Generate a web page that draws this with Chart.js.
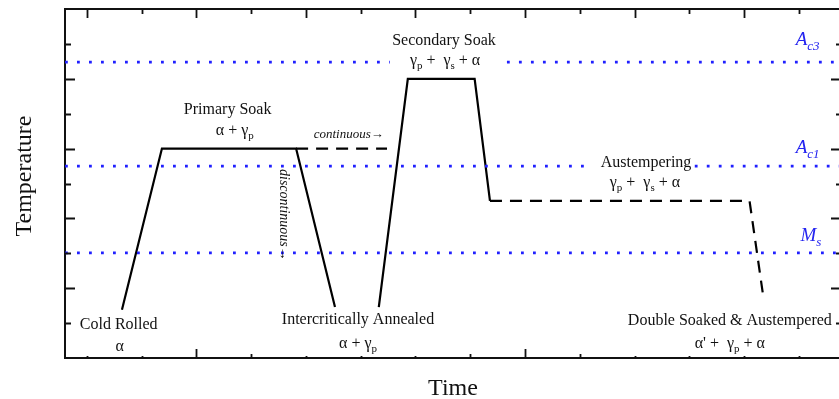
<!DOCTYPE html>
<html>
<head>
<meta charset="utf-8">
<script src="https://cdn.jsdelivr.net/npm/chart.js@4/dist/chart.umd.min.js"></script>
<style>
  html, body { margin:0; padding:0; background:#fff; overflow:hidden; }
  canvas { display:block; }
</style>
</head>
<body>
<canvas id="c" width="844" height="399"></canvas>
<script>
// ====== schematic heat treatment ======
// x: arbitrary time units (one tick = 1), y: arbitrary temperature units (one tick = 1)
const X_MIN = -0.4, X_MAX = 13.77;
const Y_MIN = 0, Y_MAX = 10;
const xTicks = [0,1,2,3,4,5,6,7,8,9,10,11,12,13];
const yTicks = [1,2,3,4,5,6,7,8,9];

// solid paths
const primaryPath   = [[0.64,1.38],[1.37,6.0],[3.82,6.0],[4.53,1.46]];
const secondaryPath = [[5.33,1.46],[5.86,8.0],[7.08,8.0],[7.36,4.5]];
// dashed paths
const continuousPath = [[3.82,6.0],[5.48,6.0]];
const austemperPath  = [[7.36,4.5],[12.10,4.5],[12.36,1.66]];

// critical temperatures (blue dotted), with the gaps left for text
const Ac3 = 8.48, Ac1 = 5.50, Ms = 3.01;
const ac3Gap = [5.53, 7.67];
const ac1Gap = [9.24, 11.10];

// annotations: text, centre x, baseline y (data units)
const notes = [
  { text:'Primary Soak',                 x:2.57,  y:6.99, kind:'label' },
  { text:'α + γ_p',                      x:2.70,  y:6.39, kind:'label' },
  { text:'Secondary Soak',               x:6.52,  y:8.97, kind:'label' },
  { text:'γ_p +  γ_s + α',               x:6.54,  y:8.40, kind:'label' },
  { text:'Austempering',                 x:10.21, y:5.47, kind:'label' },
  { text:'γ_p +  γ_s + α',               x:10.19, y:4.90, kind:'label' },
  { text:'Cold Rolled',                  x:0.58,  y:0.83, kind:'label' },
  { text:'α',                            x:0.60,  y:0.20, kind:'label' },
  { text:'Intercritically Annealed',     x:4.95,  y:0.97, kind:'label' },
  { text:'α + γ_p',                      x:4.95,  y:0.29, kind:'label' },
  { text:'Double Soaked & Austempered',  x:11.74, y:0.95, kind:'label' },
  { text:"α' +  γ_p + α",                x:11.74, y:0.29, kind:'label' },
  { text:'continuous→',                  x:4.78,  y:6.30, kind:'note' },
  { text:'discontinuous→',               x:3.60,  y:4.10, kind:'noteV' },
  { text:'A_{c3}',                       x:13.16, y:8.97, kind:'crit' },
  { text:'A_{c1}',                       x:13.16, y:5.87, kind:'crit' },
  { text:'M_s',                          x:13.22, y:3.35, kind:'crit' }
];

const xTitle = 'Time';
const yTitle = 'Temperature';

// --- helpers ---
const pts = (arr) => arr.map(([x,y]) => ({ x, y }));
const hline = (y, gap) => gap
  ? [{x:X_MIN,y},{x:gap[0],y},{x:gap[0],y:null},{x:gap[1],y},{x:X_MAX,y}]
  : [{x:X_MIN,y},{x:X_MAX,y}];

function parseRich(s){
  const out = []; const re = /_\{([^}]*)\}|_(\S)/g; let last = 0, m;
  while ((m = re.exec(s))){
    if (m.index > last) out.push({ t:s.slice(last, m.index), sub:false });
    out.push({ t:m[1] || m[2], sub:true });
    last = re.lastIndex;
  }
  if (last < s.length) out.push({ t:s.slice(last), sub:false });
  return out;
}

const SERIF = '"Liberation Serif", "Times New Roman", serif';
const kinds = {
  label: { font:`16px ${SERIF}`,          sub:`11px ${SERIF}`,          color:'#111', dy:4 },
  note:  { font:`italic 13px ${SERIF}`,   sub:`italic 9px ${SERIF}`,    color:'#111', dy:3 },
  noteV: { font:`italic 14px ${SERIF}`,   sub:`italic 9px ${SERIF}`,    color:'#111', dy:3, rotate:Math.PI/2 },
  crit:  { font:`italic 19px ${SERIF}`,   sub:`italic 13px ${SERIF}`,   color:'#2424f0', dy:5 }
};

function drawRich(ctx, str, px, py, k){
  const segs = parseRich(str);
  let total = 0;
  segs.forEach(s => { ctx.font = s.sub ? k.sub : k.font; s.w = ctx.measureText(s.t).width; total += s.w; });
  ctx.save();
  ctx.translate(px, py);
  if (k.rotate) ctx.rotate(k.rotate);
  ctx.fillStyle = k.color;
  ctx.textAlign = 'left';
  ctx.textBaseline = k.rotate ? 'middle' : 'alphabetic';
  let x = -total / 2;
  segs.forEach(s => {
    ctx.font = s.sub ? k.sub : k.font;
    ctx.fillText(s.t, x, s.sub ? k.dy : 0);
    x += s.w;
  });
  ctx.restore();
}

// inward tick marks + annotations, placed through the chart scales
const schematic = {
  id: 'schematic',
  afterDatasetsDraw(chart){
    const { ctx, chartArea:a, scales } = chart;
    const sx = scales.x, sy = scales.y;
    ctx.save();
    ctx.strokeStyle = '#111';
    ctx.lineWidth = 1.8;
    ctx.beginPath();
    const bottomLen = [2,2,9,4,2,2,2,4,9,4,2,2,2,2];
    xTicks.forEach((v, i) => {
      const p = Math.round(sx.getPixelForValue(v)) + 0.5;
      const top = i % 2 === 0 ? 9 : 5;
      ctx.moveTo(p, a.top); ctx.lineTo(p, a.top + top);
      ctx.moveTo(p, a.bottom); ctx.lineTo(p, a.bottom - bottomLen[i]);
    });
    yTicks.forEach((v) => {
      const p = Math.round(sy.getPixelForValue(v)) + 0.5;
      const major = v % 2 === 0;
      ctx.moveTo(a.left, p); ctx.lineTo(a.left + (major ? 10 : 6), p);
      ctx.moveTo(a.right, p); ctx.lineTo(a.right - (major ? 10 : 5), p);
    });
    ctx.stroke();
    ctx.restore();

    notes.forEach(n => drawRich(ctx, n.text, sx.getPixelForValue(n.x), sy.getPixelForValue(n.y), kinds[n.kind]));

    // axis titles
    ctx.save();
    ctx.fillStyle = '#111';
    ctx.font = `24px ${SERIF}`;
    ctx.textAlign = 'center';
    ctx.textBaseline = 'alphabetic';
    ctx.fillText(xTitle, (a.left + a.right) / 2, 395);
    ctx.translate(31, 176);
    ctx.rotate(-Math.PI / 2);
    ctx.fillText(yTitle, 0, 0);
    ctx.restore();
  }
};

const BLUE = '#2020ff';
const solid  = { borderColor:'#000', borderWidth:2.2, pointRadius:0, showLine:true, fill:false, tension:0, borderJoinStyle:'miter' };
const dashed = { ...solid, borderDash:[12,8] };
const dotted = { borderColor:BLUE, borderWidth:2.8, borderDash:[2.8,9.2], pointRadius:0, showLine:true, fill:false, spanGaps:false };

const noSize = (s) => { if (s.isHorizontal()) s.height = 0; else s.width = 0; };
const edge = (pos, min, max, axis) => ({
  type:'linear', position:pos, min, max, axis,
  ticks:{ display:false },
  grid:{ drawOnChartArea:false, drawTicks:false },
  border:{ display:true, color:'#111', width:2 },
  afterFit: noSize
});

new Chart(document.getElementById('c'), {
  type: 'scatter',
  data: { datasets: [
    { ...dotted, data: hline(Ac3, ac3Gap) },
    { ...dotted, data: hline(Ac1, ac1Gap) },
    { ...dotted, data: hline(Ms) },
    { ...solid,  data: pts(primaryPath) },
    { ...solid,  data: pts(secondaryPath) },
    { ...dashed, data: pts(continuousPath) },
    { ...dashed, data: pts(austemperPath) }
  ]},
  options: {
    responsive:false, animation:false, devicePixelRatio:1,
    layout:{ padding:{ left:65, top:9, right:3, bottom:41 } },
    plugins:{ legend:{ display:false }, tooltip:{ enabled:false } },
    scales:{
      x:    edge('bottom', X_MIN, X_MAX, 'x'),
      xTop: edge('top',    X_MIN, X_MAX, 'x'),
      y:    edge('left',   Y_MIN, Y_MAX, 'y'),
      yRight: edge('right', Y_MIN, Y_MAX, 'y')
    }
  },
  plugins:[schematic]
});
</script>
</body>
</html>
